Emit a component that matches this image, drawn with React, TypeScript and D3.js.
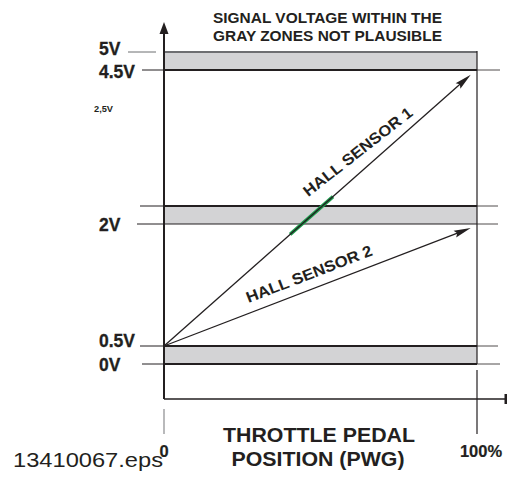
import React from 'react';
import * as d3 from 'd3';

// voltage levels (schematic, not to scale) and where they sit on the page
const levelVolts = [0, 0.5, 2, 2.5, 4.5, 5];
const levelLabels = ['0V', '0.5V', '2V', '', '4.5V', '5V'];
const zones: [number, number][] = [
  [0, 0.5],
  [2, 2.5],
  [4.5, 5],
];
const sensorNames = ['HALL SENSOR 1', 'HALL SENSOR 2'];
const sensorStart = [0.5, 0.5];
const sensorEnd = [4.43, 1.95];
const sensorEndPedal = [98, 98];
const plausibleCross = [40.3, 54]; // pedal % range highlighted on sensor 1
const xTickLabels = ['0', '100%'];
const titleLines = ['SIGNAL VOLTAGE WITHIN THE', 'GRAY  ZONES NOT PLAUSIBLE'];

const W = 507;
const H = 481;
const FONT = "'Liberation Sans', Arial, Helvetica, sans-serif";

export default function App() {
  const x = d3.scaleLinear().domain([0, 100]).range([164, 477]);
  const y = d3
    .scaleLinear()
    .domain(levelVolts)
    .range([364, 346, 224, 206, 70, 52]);
  const axisY = 399;
  const dark = '#231f20';

  const labelDy: Record<string, number> = { '0V': 7, '0.5V': 1, '2V': 7, '4.5V': 8, '5V': 3 };
  const leftStart: Record<number, number> = { 0: 142, 0.5: 140, 2: 137, 2.5: 140, 4.5: 142, 5: 128 };

  const arrowHead = (x1: number, y1: number, x2: number, y2: number, len: number, half: number) => {
    const a = Math.atan2(y2 - y1, x2 - x1);
    const bx = x2 - len * Math.cos(a);
    const by = y2 - len * Math.sin(a);
    const px = -Math.sin(a) * half;
    const py = Math.cos(a) * half;
    return `M${x2},${y2}L${bx + px},${by + py}L${bx + len * 0.15 * Math.cos(a)},${by + len * 0.15 * Math.sin(a)}L${bx - px},${by - py}Z`;
  };

  // point on sensor 1 line (straight in page space) at a given pedal %
  const s1Point = (p: number): [number, number] => {
    const t = p / sensorEndPedal[0];
    const ip = d3.interpolate([x(0), y(sensorStart[0])], [x(sensorEndPedal[0]), y(sensorEnd[0])]);
    const r = ip(t);
    return [r[0], r[1]];
  };
  const green = d3.line()(plausibleCross.map(s1Point)) || '';

  return (
    <svg
      width={W}
      height={H}
      style={{ position: 'absolute', left: 0, top: 0, background: '#fff' }}
      fontFamily={FONT}
    >
      {/* title */}
      {titleLines.map((t, i) => (
        <text key={t} x={213} y={23 + i * 18} fontSize={14.5} fontWeight="bold" fill={dark}
          textLength={229} lengthAdjust="spacingAndGlyphs">
          {t}
        </text>
      ))}

      {/* gray zones */}
      {zones.map(([lo, hi]) => (
        <rect key={lo} x={x(0)} y={y(hi)} width={x(100) - x(0)} height={y(lo) - y(hi)} fill="#d3d3d5" />
      ))}

      {/* level lines, left stubs and right extensions */}
      {levelVolts.map((v) => {
        const top = v === 5;
        const thick = v === 0 || v === 0.5 || v === 2.5 || v === 4.5;
        return (
          <g key={v}>
            <line x1={x(0)} x2={x(100)} y1={y(v)} y2={y(v)}
              stroke={top ? '#6d6e71' : dark} strokeWidth={top || thick ? 2 : 1.2} />
            <line x1={leftStart[v]} x2={top ? 156 : x(0)} y1={y(v)} y2={y(v)}
              stroke={top ? '#6d6e71' : dark} strokeWidth={1} />
            {!top && (
              <line x1={x(100)} x2={v === 0 || v === 4.5 ? 500 : 498} y1={y(v)} y2={y(v)}
                stroke={dark} strokeWidth={0.8} />
            )}
          </g>
        );
      })}

      {/* level labels */}
      {levelVolts.map((v, i) =>
        levelLabels[i] ? (
          <text key={v} x={99} y={y(v) + labelDy[levelLabels[i]]} fontSize={17.5}
            fontWeight="bold" fill={dark} stroke={dark} strokeWidth={0.3}>
            {levelLabels[i]}
          </text>
        ) : null,
      )}
      <text x={94} y={111.5} fontSize={8.5} fontWeight="bold" fill={dark} textLength={19}
        lengthAdjust="spacingAndGlyphs">2,5V</text>

      {/* box right side */}
      <line x1={x(100)} x2={x(100)} y1={y(5) - 1} y2={y(0)} stroke={dark} strokeWidth={1.2} />

      {/* y axis with arrow */}
      <line x1={x(0)} x2={x(0)} y1={30} y2={axisY} stroke={dark} strokeWidth={2} />
      <path d={`M${x(0)},22L${x(0) - 4.5},34L${x(0) + 4.5},34Z`} fill={dark} />

      {/* x axis */}
      <line x1={x(0)} x2={W} y1={axisY} y2={axisY} stroke={dark} strokeWidth={1.6} />
      <rect x={504.5} y={394} width={3} height={10} fill={dark} />

      {/* x ticks */}
      <line x1={x(0)} x2={x(0)} y1={409} y2={434} stroke="#8a8b8e" strokeWidth={1.2} />
      <line x1={x(100)} x2={x(100)} y1={370} y2={434} stroke={dark} strokeWidth={1.2} />
      {xTickLabels.map((t, i) => (
        <text key={t} x={i === 0 ? x(0) : x(100) + 4} y={457} fontSize={16.5} fontWeight="bold"
          fill={dark} textAnchor="middle" stroke={dark} strokeWidth={0.2}>
          {t}
        </text>
      ))}

      {/* green highlight where sensor 1 crosses the middle gray zone */}
      <path d={green} stroke="#1b9a4b" strokeWidth={3.6} fill="none" />

      {/* sensor lines */}
      {sensorNames.map((name, i) => {
        const x1 = x(0);
        const y1 = y(sensorStart[i]);
        const x2 = x(sensorEndPedal[i]);
        const y2 = y(sensorEnd[i]);
        const ang = (Math.atan2(y2 - y1, x2 - x1) * 180) / Math.PI;
        const tx = i === 0 ? 361 : 311;
        const ty = i === 0 ? 156 : 279;
        const rot = i === 0 ? -38 : ang;
        return (
          <g key={name}>
            <line x1={x1} y1={y1} x2={x2 - 8 * Math.cos((ang * Math.PI) / 180)}
              y2={y2 - 8 * Math.sin((ang * Math.PI) / 180)} stroke={dark} strokeWidth={1.3} />
            <path d={arrowHead(x1, y1, x2, y2, 17, 3.6)} fill={dark} />
            <text x={tx} y={ty} transform={`rotate(${rot},${tx},${ty})`} textAnchor="middle"
              fontSize={15.5} fontWeight="bold" fill={dark} textLength={134}
              lengthAdjust="spacingAndGlyphs">
              {name}
            </text>
          </g>
        );
      })}

      {/* x axis title */}
      <text x={319} y={442} fontSize={19.5} fontWeight="bold" fill={dark} textAnchor="middle"
        textLength={192} lengthAdjust="spacingAndGlyphs">
        THROTTLE PEDAL
      </text>
      <text x={318} y={466} fontSize={19.5} fontWeight="bold" fill={dark} textAnchor="middle"
        textLength={173} lengthAdjust="spacingAndGlyphs">
        POSITION (PWG)
      </text>

      <text x={13} y={467} fontSize={21} fill={dark} textLength={150} lengthAdjust="spacingAndGlyphs">
        13410067.eps
      </text>
    </svg>
  );
}
